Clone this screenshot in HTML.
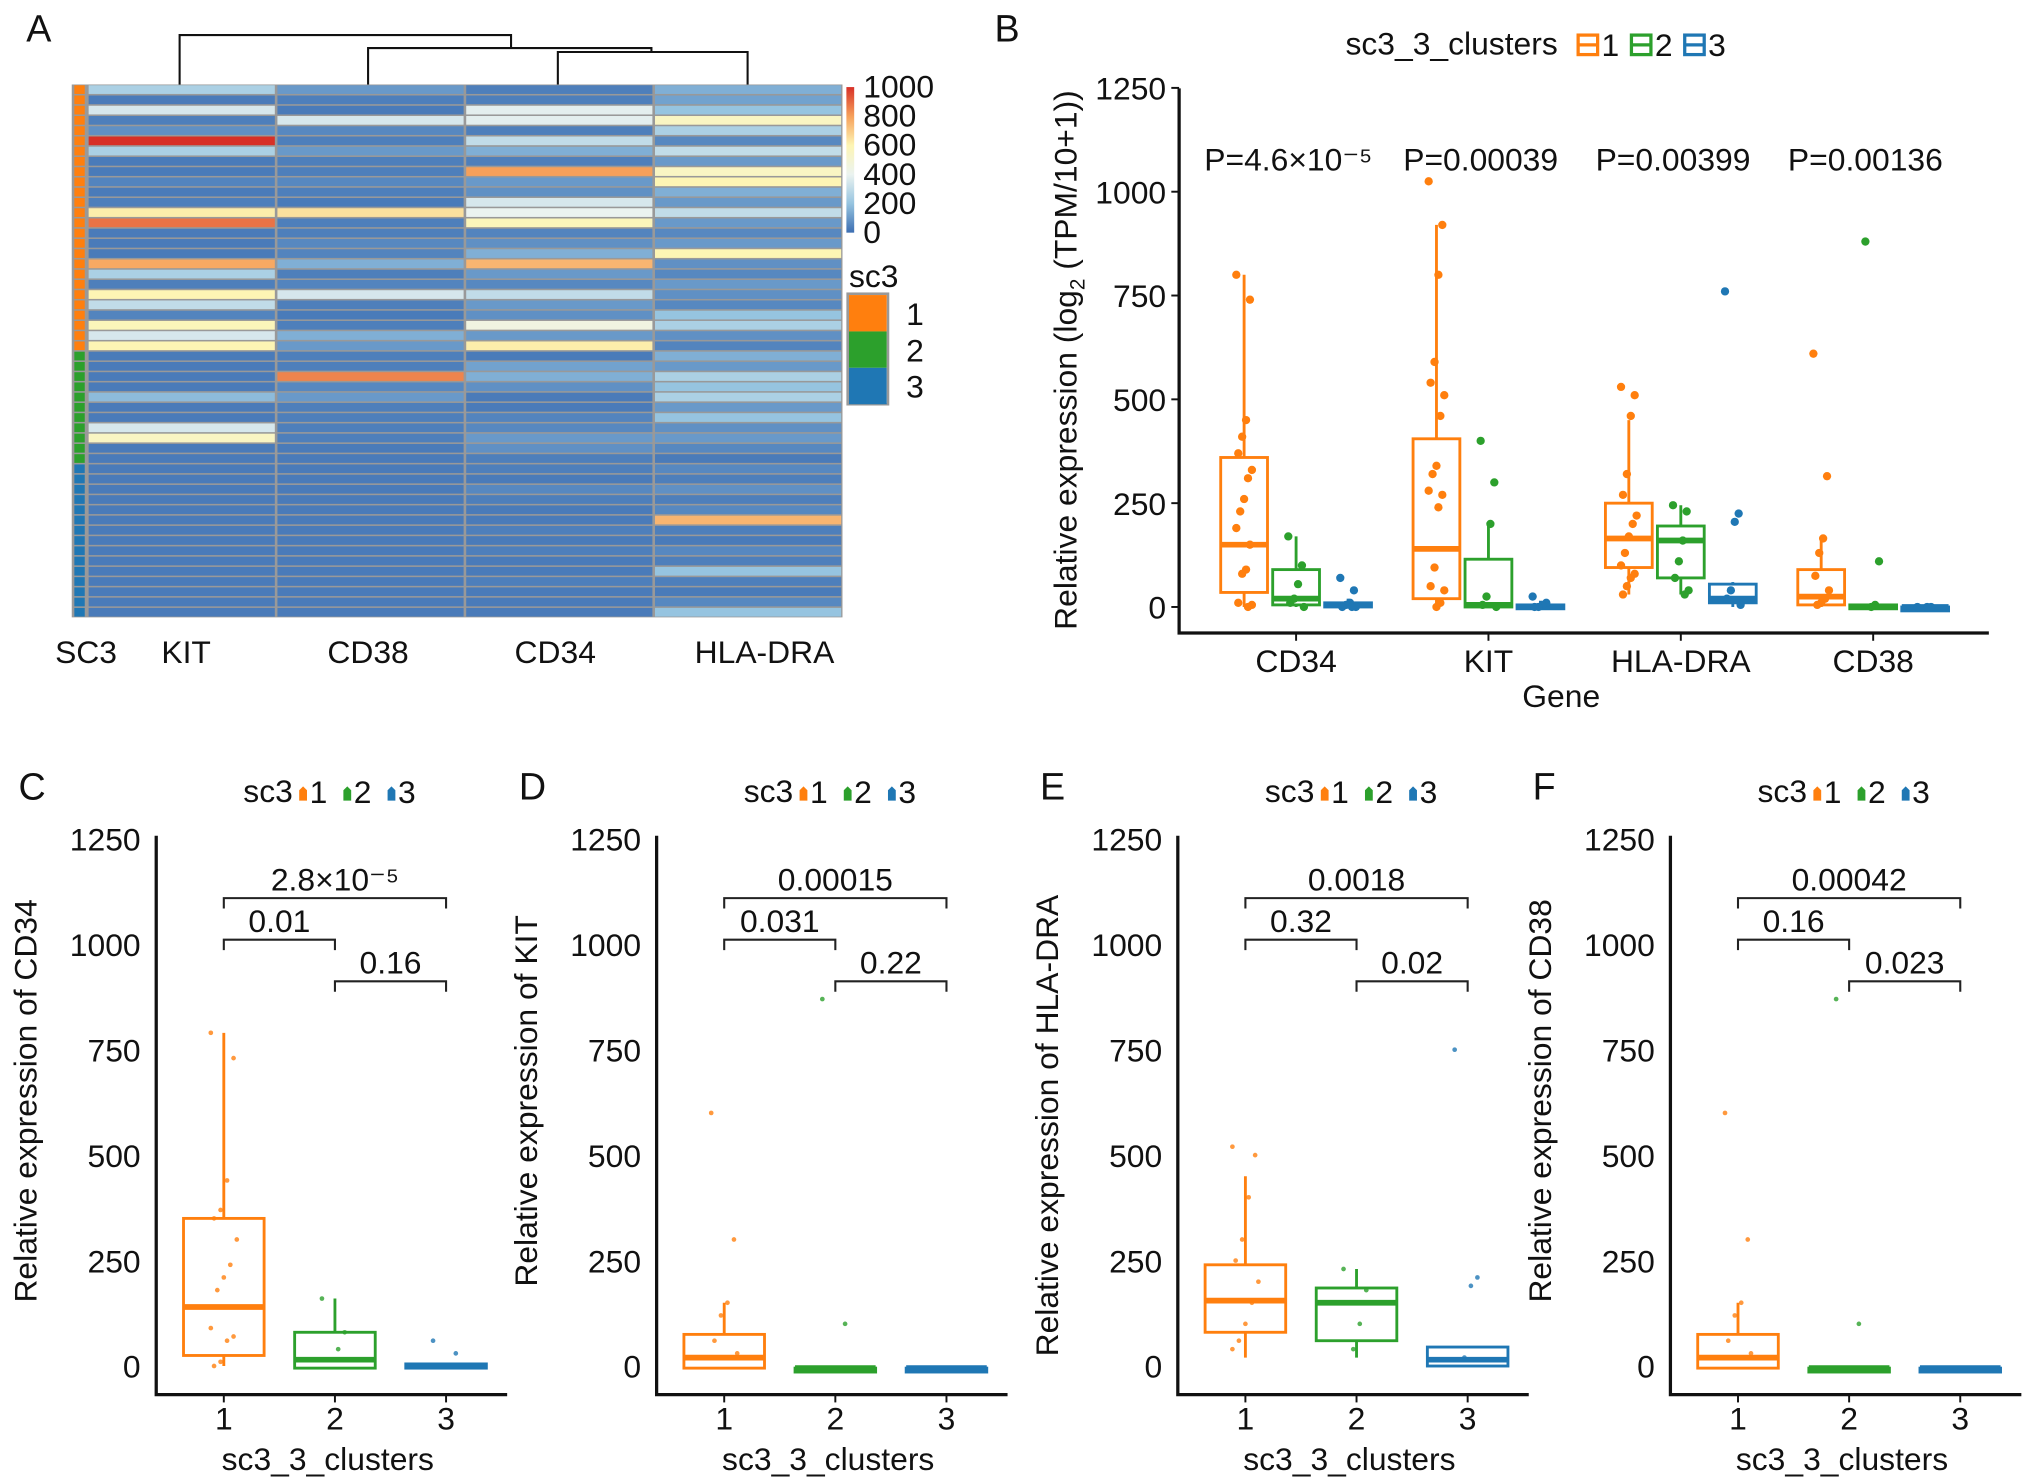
<!DOCTYPE html>
<html><head><meta charset="utf-8">
<style>
html,body{margin:0;padding:0;background:#fff;}
svg{display:block;font-family:"Liberation Sans",Arial,sans-serif;}
</style></head>
<body>
<svg id="fig" width="2032" height="1483" viewBox="0 0 1563 1141" xmlns="http://www.w3.org/2000/svg"></svg>
<script>
// ---------- DATA ----------
const heatGenes = ["KIT","CD38","CD34","HLA-DRA"];
const heatClusters = [1,1,1,1,1,1,1,1,1,1,1,1,1,1,1,1,1,1,1,1,1,1,1,1,1,1,2,2,2,2,2,2,2,2,2,2,2,3,3,3,3,3,3,3,3,3,3,3,3,3,3,3];
const heatKIT  = [250,30,350,40,80,1000,250,30,30,50,30,40,620,880,30,30,30,780,250,40,600,300,50,580,350,600, 30,30,30,30,180,30,30,350,550,30,30, 30,30,30,30,30,30,30,30,30,30,30,30,30,30,30];
const heatCD38 = [100,40,30,350,60,40,100,40,40,60,40,30,650,40,40,60,50,150,40,50,350,40,30,40,150,100, 40,40,850,60,100,40,40,40,40,30,30, 30,30,30,30,30,30,30,30,30,30,30,30,30,30,30];
const heatCD34 = [40,40,380,380,40,300,150,40,800,100,80,350,400,580,50,80,150,750,100,60,300,100,80,450,100,620, 30,120,150,80,30,30,50,60,100,80,40, 40,30,60,40,30,30,40,30,40,30,30,40,30,30,30];
const heatHLA  = [150,120,200,550,250,60,300,100,550,600,150,100,300,100,60,100,600,80,60,100,80,60,200,250,80,50, 150,100,250,200,250,100,200,80,100,60,30, 60,40,80,40,60,750,40,30,60,40,200,40,30,60,200];
const colorTicks = [1000,800,600,400,200,0];

const bGenes = ["CD34","KIT","HLA-DRA","CD38"];
const bPvals = ["P=4.6×10⁻⁵","P=0.00039","P=0.00399","P=0.00136"];
const yTicks = [0,250,500,750,1000,1250];
const bStatsCD34 = [[0,35,150,360,800],[0,5,20,90,170],[0,0,5,10,20]];
const bStatsKIT  = [[0,20,140,405,920],[0,0,5,115,200],[0,0,0,5,15]];
const bStatsHLA  = [[30,95,165,250,450],[30,70,160,195,245],[0,10,20,55,60]];
const bStatsCD38 = [[0,5,25,90,165],[0,0,0,5,5],[0,0,0,0,0]];
const bPtsCD34 = [[800,740,450,410,370,330,310,260,230,190,150,90,80,10,5,0],[170,100,55,20,10,0],[70,40,10,5,0,0,0]];
const bPtsKIT  = [[1025,920,800,590,540,510,460,340,320,280,270,240,95,50,40,10,0],[400,300,200,25,5,0],[25,10,5,0,0]];
const bPtsHLA  = [[530,510,460,320,270,220,200,170,130,100,80,70,50,30],[245,230,160,110,70,40,30],[760,225,205,40,20,5]];
const bPtsCD38 = [[610,315,165,130,75,40,20,10,5],[880,110,5,0],[0,0,0]];

const panelGenes = ["CD34","KIT","HLA-DRA","CD38"];
const panelLetters = ["C","D","E","F"];
const panelBrackets = [["2.8×10⁻⁵","0.01","0.16"],["0.00015","0.031","0.22"],["0.0018","0.32","0.02"],["0.00042","0.16","0.023"]];
const pStatsCD34 = [[0,25,140,350,790],[-5,-5,15,80,160],[-5,-5,0,5,5]];
const pStatsKIT  = [[-5,-5,20,75,150],[-5,-5,-5,-5,-5],[-5,-5,-5,-5,-5]];
const pStatsHLA  = [[20,80,155,240,450],[20,60,150,185,230],[0,0,15,45,45]];
const pStatsCD38 = [[-5,-5,20,75,150],[-5,-5,-5,-5,-5],[-5,-5,-5,-5,-5]];
const pPtsCD34 = [[790,730,440,370,350,300,240,210,180,90,70,60,10,0],[160,80,40],[60,30]];
const pPtsKIT  = [[600,300,150,120,60,30],[870,100],[]];
const pPtsHLA  = [[520,500,400,300,250,200,150,100,60,40],[230,180,100,40],[750,210,190,20]];
const pPtsCD38 = [[600,300,150,120,60,30],[870,100],[]];

// ---------- HELPERS ----------
const svg = document.getElementById('fig');
const NS = "http://www.w3.org/2000/svg";
const COL = ["#ff7f0e","#2ca02c","#1f77b4"];
const FS = 24.5;
function mk(tag, attrs, parent){
  const e = document.createElementNS(NS, tag);
  for (const k in attrs) e.setAttribute(k, attrs[k]);
  (parent||svg).appendChild(e);
  return e;
}
function txt(x,y,s,size,anchor,parent,extra){
  const e = mk('text',Object.assign({x:x,y:y,'font-size':size,'text-anchor':anchor||'middle',fill:'#111'},extra||{}),parent);
  e.textContent = s;
  return e;
}
function heatColor(v){
  const stops=[[0,[60,110,178]],[200,[150,196,224]],[400,[235,243,240]],[600,[253,245,180]],[800,[246,160,90]],[1000,[215,48,39]]];
  v=Math.max(0,Math.min(1000,v));
  for(let i=0;i<stops.length-1;i++){
    if(v<=stops[i+1][0]){
      const t=(v-stops[i][0])/(stops[i+1][0]-stops[i][0]);
      const a=stops[i][1],b=stops[i+1][1];
      return `rgb(${Math.round(a[0]+(b[0]-a[0])*t)},${Math.round(a[1]+(b[1]-a[1])*t)},${Math.round(a[2]+(b[2]-a[2])*t)})`;
    }
  }
}

// ---------- PANEL A ----------
const gA = mk('g',{});


const lblA = txt(20,32,"A",29,'start',gA);


const hx0=67, hy0=65, hy1=475, colW=(648-67)/4;
const nRows = heatClusters.length, rowH=(hy1-hy0)/nRows;
const heatCols=[heatKIT,heatCD38,heatCD34,heatHLA];
mk('rect',{x:55,y:hy0,width:593,height:hy1-hy0,fill:'#999'},gA);
for(let r=0;r<nRows;r++){
  const a = mk('rect',{x:57,y:hy0+r*rowH+0.6,width:8,height:rowH-1.2,fill:COL[heatClusters[r]-1]},gA);
  
  
  for(let c=0;c<4;c++){
    const cell = mk('rect',{x:hx0+c*colW+1,y:hy0+r*rowH+0.6,width:colW-2,height:rowH-1.2,fill:heatColor(heatCols[c][r])},gA);
    
    
  }
}
const dend = mk('path',{d:"M138,65 V27 H393 V37 M283,65 V37 H501 V40 M429,65 V40 H575 V65",fill:'none',stroke:'#111','stroke-width':1.6},gA);


const colLblX=[143,283,427,588];
const sc3l = txt(66,510,"SC3",FS,'middle',gA);


heatGenes.forEach((g,i)=>{
  const t=txt(colLblX[i],510,g,FS,'middle',gA);
  
  
});
const defs = mk('defs',{});
const grad = mk('linearGradient',{id:'hg',x1:0,y1:1,x2:0,y2:0},defs);
[0,200,400,600,800,1000].forEach(v=>mk('stop',{offset:v/1000,'stop-color':heatColor(v)},grad));
const cbar = mk('rect',{x:651,y:67,width:6,height:112,fill:'url(#hg)'},gA);


colorTicks.forEach(v=>{
  const t=txt(664,179-v/1000*112+8,String(v),FS,'start',gA);
  
  
});
const sc3t = txt(653,221,"sc3",FS,'start',gA);


mk('rect',{x:652,y:226,width:31,height:85,fill:'none',stroke:'#999','stroke-width':2},gA);
[1,2,3].forEach((k,i)=>{
  const r=mk('rect',{x:653,y:227+i*28,width:29,height:28,fill:COL[i]},gA);
  
  
  const t=txt(697,250+i*28,String(k),FS,'start',gA);
  
  
});

function drawBox(g, cx, w, st, yf, col, sw){
  const [lo,q1,med,q3,hi]=st;
  const wl=mk('line',{x1:cx,x2:cx,y1:yf(hi),y2:yf(lo),stroke:col,'stroke-width':sw},g);
  
  
  const h=Math.max(yf(q1)-yf(q3),3);
  const b=mk('rect',{x:cx-w/2,y:yf(q3),width:w,height:h,fill:'#fff',stroke:col,'stroke-width':sw},g);
  
  
  const m=mk('line',{x1:cx-w/2,x2:cx+w/2,y1:yf(med),y2:yf(med),stroke:col,'stroke-width':sw*2},g);
  
  
}

// ---------- PANEL B ----------
const gB = mk('g',{});


const lblB=txt(765,32,"B",29,'start',gB);


const bx0=907, bxEnd=1530, by0=467, bk=0.3195;
const yB=v=>by0-v*bk;
const geneX=i=>997+i*148;
const bStats=[bStatsCD34,bStatsKIT,bStatsHLA,bStatsCD38];
const bPts=[bPtsCD34,bPtsKIT,bPtsHLA,bPtsCD38];
yTicks.forEach(v=>{
  const t=txt(897,yB(v)+9,String(v),FS,'end',gB);
  
  
  mk('line',{x1:901,x2:907,y1:yB(v),y2:yB(v),stroke:'#111','stroke-width':1.5},gB);
});
const yAx=mk('path',{d:`M${bx0},68 V487 H${bxEnd}`,fill:'none',stroke:'#111','stroke-width':2.5},gB);


const ytB=mk('text',{x:0,y:0,'font-size':FS,'text-anchor':'middle',fill:'#111',transform:'translate(828,277) rotate(-90)'},gB);
ytB.innerHTML='Relative expression (log<tspan font-size="16" dy="6">2</tspan><tspan dy="-6"> (TPM/10+1))</tspan>';


bGenes.forEach((g,i)=>{
  const cx=geneX(i);
  mk('line',{x1:cx,x2:cx,y1:487,y2:493,stroke:'#111','stroke-width':1.5},gB);
  const t=txt(cx,517,g,FS,'middle',gB);
  
  
  const p=txt(cx-6,131,bPvals[i],FS,'middle',gB);
  
  
  for(let c=0;c<3;c++){
    const ccx=cx+(c-1)*40;
    drawBox(gB,ccx,36,bStats[i][c],yB,COL[c],2.2);
    bPts[i][c].forEach((v,j)=>{
      const dx=((j*7)%9-4)*1.5;
      const pt=mk('circle',{cx:ccx+dx,cy:yB(v),r:3.2,fill:COL[c]},gB);
      
      
    });
  }
});
const xtB=txt(1201,544,"Gene",FS,'middle',gB);


const lgT=txt(1035,42,"sc3_3_clusters",FS,'start',gB);


[1,2,3].forEach((k,i)=>{
  const x=1214+i*41;
  const ic=mk('rect',{x:x,y:27,width:15,height:15,fill:'#fff',stroke:COL[i],'stroke-width':2.5},gB);
  
  
  mk('line',{x1:x,x2:x+15,y1:34.5,y2:34.5,stroke:COL[i],'stroke-width':2.5},gB);
  const t=txt(x+18,43,String(k),FS,'start',gB);
  
  
});

// ---------- PANELS C-F ----------
const pStats=[pStatsCD34,pStatsKIT,pStatsHLA,pStatsCD38];
const pPts=[pPtsCD34,pPtsKIT,pPtsHLA,pPtsCD38];
const panelOff=[0,385,786,1165];
const py0=1051, pk=0.3245;
const yP=v=>py0-v*pk;
panelGenes.forEach((gene,pi)=>{
  const o=panelOff[pi];
  const g=mk('g',{});
  
  
  const L=txt(14+o,615,panelLetters[pi],29,'start',g);
  
  
  const lg=txt(187+o,617,"sc3",FS,'start',g);
  
  
  [1,2,3].forEach((k,i)=>{
    const x=230+o+i*34;
    const ic=mk('path',{d:`M${x},616 v-8 l3,-3 l3,3 v8 z`,fill:COL[i]},g);
    
    
    const t=txt(x+8,618,String(k),FS,'start',g);
    
    
  });
  const ax0=120+o;
  yTicks.forEach(v=>{
    const t=txt(ax0-12,yP(v)+9,String(v),FS,'end',g);
    
    
  });
  const axes=mk('path',{d:`M${ax0},643 V1073 H${ax0+270}`,fill:'none',stroke:'#111','stroke-width':2.5},g);
  
  
  const yt=mk('text',{x:0,y:0,'font-size':FS,'text-anchor':'middle',fill:'#111',transform:`translate(${28+o},${gene==='HLA-DRA'?866:847}) rotate(-90)`},g);
  yt.textContent="Relative expression of "+gene;
  
  
  const catX=c=>172+o+c*85.5;
  for(let c=0;c<3;c++){
    const cx=catX(c);
    mk('line',{x1:cx,x2:cx,y1:1073,y2:1079,stroke:'#111','stroke-width':1.5},g);
    const t=txt(cx,1100,String(c+1),FS,'middle',g);
    
    
    drawBox(g,cx,62,pStats[pi][c],yP,COL[c],2.2);
    pPts[pi][c].forEach((v,j)=>{
      const dx=((j*7)%9-4)*2.5;
      const pt=mk('circle',{cx:cx+dx,cy:yP(v),r:1.8,fill:COL[c],opacity:0.8},g);
      
      
    });
  }
  const xt=txt(252+o,1131,"sc3_3_clusters",FS,'middle',g);
  
  
  const br=[[0,2,691],[0,1,723],[1,2,755]];
  br.forEach((b,bi)=>{
    const x1=catX(b[0]),x2=catX(b[1]),y=b[2];
    const pth=mk('path',{d:`M${x1},${y+8} V${y} H${x2} V${y+8}`,fill:'none',stroke:'#222','stroke-width':1.6},g);
    
    
    const t=txt((x1+x2)/2,y-6,panelBrackets[pi][bi],FS,'middle',g);
    
    
  });
});
</script>
</body></html>
